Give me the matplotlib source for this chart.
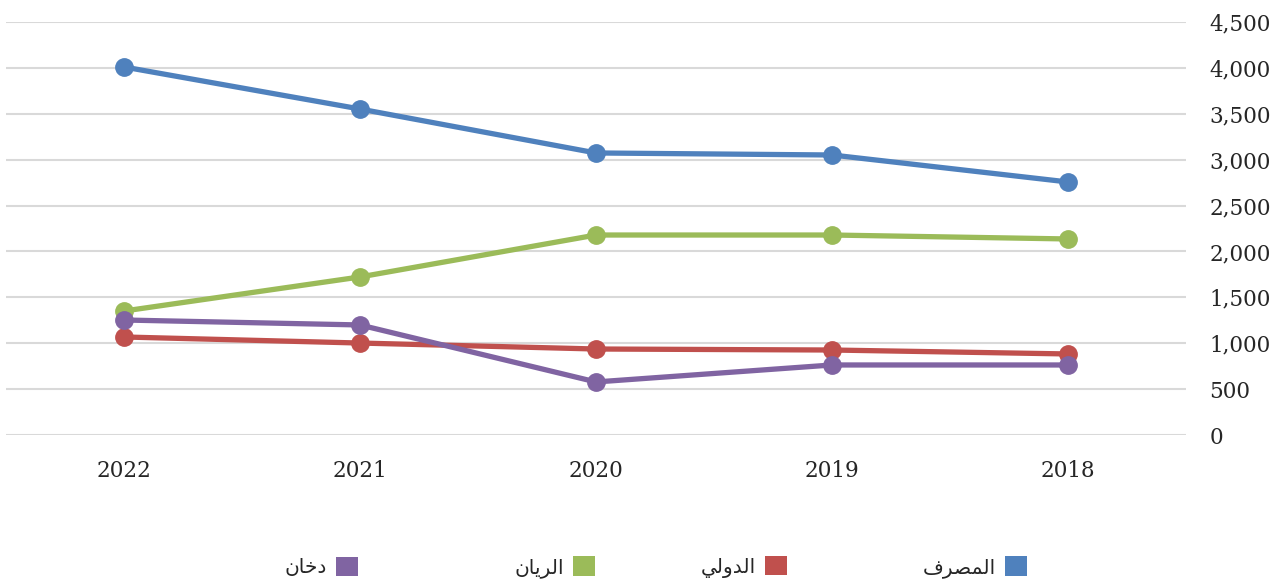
import matplotlib
matplotlib.use("Agg")
import matplotlib.pyplot as plt
from matplotlib.patches import Patch

# data (x axis runs right to left)
years = ["2022", "2021", "2020", "2019", "2018"]
masraf = [4010, 3552, 3073, 3051, 2757]
dawli = [1068, 1002, 937, 926, 883]
rayan = [1351, 1722, 2179, 2179, 2136]
dukhan = [1253, 1199, 578, 763, 763]

names = ["المصرف", "الدولي", "الريان", "دخان"]
colors = ["#4F81BD", "#C0504D", "#9BBB59", "#8064A2"]
yticks = [0, 500, 1000, 1500, 2000, 2500, 3000, 3500, 4000, 4500]

# matplotlib has no Arabic shaping, so pick presentation forms by hand
# (isolated, final, initial, medial)
FORMS = {
    "ا": ("\uFE8D", "\uFE8E", None, None),
    "ل": ("\uFEDD", "\uFEDE", "\uFEDF", "\uFEE0"),
    "م": ("\uFEE1", "\uFEE2", "\uFEE3", "\uFEE4"),
    "ص": ("\uFEB9", "\uFEBA", "\uFEBB", "\uFEBC"),
    "ر": ("\uFEAD", "\uFEAE", None, None),
    "ف": ("\uFED1", "\uFED2", "\uFED3", "\uFED4"),
    "د": ("\uFEA9", "\uFEAA", None, None),
    "و": ("\uFEED", "\uFEEE", None, None),
    "ي": ("\uFEF1", "\uFEF2", "\uFEF3", "\uFEF4"),
    "ن": ("\uFEE5", "\uFEE6", "\uFEE7", "\uFEE8"),
    "خ": ("\uFEA5", "\uFEA6", "\uFEA7", "\uFEA8"),
}


def shape(word):
    out = []
    for i, ch in enumerate(word):
        iso, fin, ini, med = FORMS[ch]
        prev_joins = i > 0 and FORMS[word[i - 1]][2] is not None
        next_joins = i < len(word) - 1 and ini is not None
        if prev_joins and next_joins:
            out.append(med)
        elif prev_joins:
            out.append(fin)
        elif next_joins:
            out.append(ini)
        else:
            out.append(iso)
    return "".join(reversed(out))


fig = plt.figure(figsize=(12.85, 5.88), dpi=100)
ax = fig.add_axes([6 / 1285, 153 / 588, 1180 / 1285, 413 / 588])

x = list(range(len(years)))
for vals, c in zip([masraf, dawli, rayan, dukhan], colors):
    ax.plot(x, vals, color=c, lw=3.8, marker="o", ms=12.5,
            solid_capstyle="round", zorder=3)

ax.set_xlim(-0.5, len(years) - 0.5)
ax.set_ylim(0, 4500)
ax.set_xticks(x)
ax.set_xticklabels(years)
ax.set_yticks(yticks)
ax.set_yticklabels([f"{v:,}" for v in yticks])
ax.yaxis.tick_right()
ax.grid(axis="y", color="#d9d9d9", lw=1.5)
ax.set_axisbelow(True)
for s in ax.spines.values():
    s.set_visible(False)
ax.tick_params(axis="both", length=0, colors="#262626", labelsize=15.5)
ax.tick_params(axis="y", pad=17)
ax.tick_params(axis="x", pad=18)
for lab in ax.get_xticklabels() + ax.get_yticklabels():
    lab.set_fontfamily("DejaVu Serif")
for lab in ax.get_yticklabels():
    lab.set_horizontalalignment("left")

# legend entries laid out right to left like the original
leg_right = [1027, 787, 595, 358]
for n, c, xr in zip(names, colors, leg_right):
    leg = fig.legend([Patch(facecolor=c)], [shape(n)], loc="center right",
                     bbox_to_anchor=(xr / 1285, 21 / 588), frameon=False,
                     markerfirst=False, handlelength=1.08, handleheight=1.08,
                     handletextpad=0.45, borderpad=0, borderaxespad=0,
                     prop={"family": "DejaVu Sans", "size": 14.5})
    leg.get_texts()[0].set_color("#262626")

fig.savefig("out.png", dpi=100)
